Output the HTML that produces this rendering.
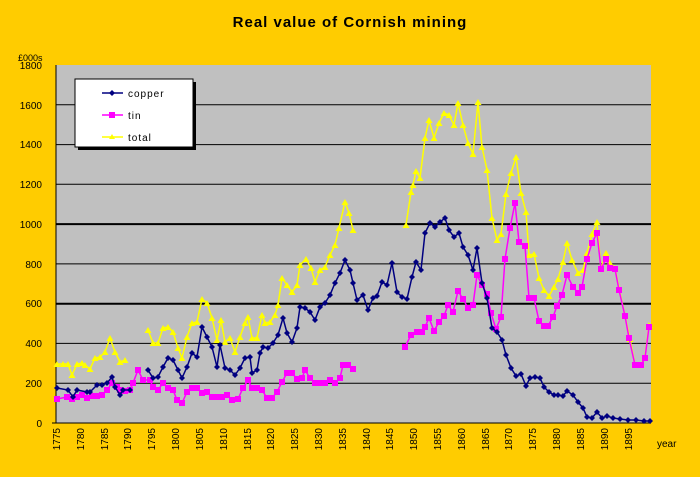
<!DOCTYPE html>
<html><head><style>
body{margin:0;background:#ffcc00;}
svg{display:block;font-family:"Liberation Sans",sans-serif;}
</style></head><body>
<svg width="700" height="477" viewBox="0 0 700 477">
<defs>
<marker id="mc" markerWidth="6" markerHeight="6" refX="3" refY="3" markerUnits="userSpaceOnUse"><path d="M3 0 L6 3 L3 6 L0 3Z" fill="#000080"/></marker>
<marker id="mt" markerWidth="6" markerHeight="6" refX="3" refY="3" markerUnits="userSpaceOnUse"><rect x="0" y="0" width="6" height="6" fill="#ff00ff"/></marker>
<marker id="my" markerWidth="7" markerHeight="6" refX="3.5" refY="3" markerUnits="userSpaceOnUse"><path d="M3.5 0 L7 6 L0 6Z" fill="#ffff00"/></marker>
</defs>
<rect width="700" height="477" fill="#ffcc00"/>
<text x="350" y="27" text-anchor="middle" font-size="15" font-weight="bold" letter-spacing="1">Real value of Cornish mining</text>
<text x="18" y="61" font-size="9">£000s</text>
<rect x="56" y="65" width="595" height="358" fill="#c0c0c0"/>
<g stroke="#000" stroke-width="1">
<line x1="56" y1="383.2" x2="651" y2="383.2"/>
<line x1="56" y1="343.4" x2="651" y2="343.4"/>
<line x1="56" y1="303.7" x2="651" y2="303.7" stroke-width="2"/>
<line x1="56" y1="263.9" x2="651" y2="263.9"/>
<line x1="56" y1="224.1" x2="651" y2="224.1" stroke-width="2"/>
<line x1="56" y1="184.3" x2="651" y2="184.3"/>
<line x1="56" y1="144.6" x2="651" y2="144.6"/>
<line x1="56" y1="104.8" x2="651" y2="104.8"/>
<line x1="56" y1="65" x2="56" y2="423"/>
<line x1="52" y1="423" x2="651" y2="423"/>
</g>
<g font-size="10" text-anchor="end">
<text x="42" y="427">0</text><text x="42" y="387">200</text><text x="42" y="347">400</text><text x="42" y="307">600</text><text x="42" y="268">800</text><text x="42" y="228">1000</text><text x="42" y="188">1200</text><text x="42" y="148">1400</text><text x="42" y="109">1600</text><text x="42" y="69">1800</text>
</g>
<g font-size="10" text-anchor="end" id="xl"></g>
<text x="657" y="447" font-size="10">year</text>

<polyline fill="none" stroke="#ffff00" stroke-width="1.5" marker-start="url(#my)" marker-mid="url(#my)" marker-end="url(#my)" points="57,364 63,364 68,364 72,375 77,364 82,363 85,365 90,369 95,358 100,357 105,352 110,338 115,352 120,362 125,360"/>
<polyline fill="none" stroke="#ffff00" stroke-width="1.5" marker-start="url(#my)" marker-mid="url(#my)" marker-end="url(#my)" points="148,330 153,343 158,343 163,328 168,327 173,332 178,348 182,358 187,337 192,323 197,322 202,299 207,303 212,318 217,340 221,320 225,342 230,338 235,352 240,337 245,323 248,317 252,338 257,338 262,315 265,323 270,322 275,315 278,305 282,278 287,285 292,292 297,285 300,265 306,259 311,268 315,282 320,270 325,267 330,255 335,245 339,228 345,202 349,213 353,230"/>
<polyline fill="none" stroke="#ffff00" stroke-width="1.5" marker-start="url(#my)" marker-mid="url(#my)" marker-end="url(#my)" points="406,225 411,192 413,185 416,171 420,178 425,138 429,120 434,138 439,123 444,113 449,115 454,125 458,103 463,125 468,143 473,154 478,102 482,147 487,170 492,218 497,240 501,234 506,194 511,173 516,157 521,193 526,212 529,255 534,254 539,278 544,290 549,296 554,287 558,279 563,262 567,243 572,260 578,273 583,270 587,253 592,234 597,222 601,269 606,253 610,263 615,268 619,288 625,316 630,339 635,365 641,365 645,357 649,325"/>

<polyline fill="none" stroke="#ff00ff" stroke-width="1.5" marker-start="url(#mt)" marker-mid="url(#mt)" marker-end="url(#mt)" points="57,399 67,397 72,399 77,397 82,395 87,398 92,396 97,396 102,395 107,390 112,383 117,387 120,390 125,391 130,390 133,383 138,370 143,380 150,380 153,387 158,390 163,383 168,388 173,390 177,400 182,403 187,392 192,388 197,388 202,393 207,392 212,397 217,397 222,397 227,395 232,400 238,399 243,388 248,380 252,388 257,388 262,390 267,398 272,398 277,392 282,382 287,373 292,373 297,379 302,378 305,370 310,378 315,383 320,383 325,383 330,380 335,383 340,378 343,365 348,365 353,369"/>
<polyline fill="none" stroke="#ff00ff" stroke-width="1.5" marker-start="url(#mt)" marker-mid="url(#mt)" marker-end="url(#mt)" points="405,347 411,335 417,332 422,332 425,327 429,318 434,331 439,322 444,316 448,305 453,312 458,291 463,299 468,308 473,305 477,275 482,285 487,294 491,313 496,329 501,317 505,259 510,228 515,203 519,242 525,246 529,298 534,298 539,321 544,326 548,326 553,317 557,306 562,295 567,275 573,287 578,293 582,287 587,259 592,243 597,233 601,269 606,259 610,268 615,269 619,290 625,316 629,338 635,365 641,365 645,358 649,327"/>

<polyline fill="none" stroke="#000080" stroke-width="1.5" marker-start="url(#mc)" marker-mid="url(#mc)" marker-end="url(#mc)" points="57,388 68,390 73,397 77,390 87,392 90,392 97,385 102,385 107,383 112,377 115,387 120,395 123,390 130,390"/>
<polyline fill="none" stroke="#000080" stroke-width="1.5" marker-start="url(#mc)" marker-mid="url(#mc)" marker-end="url(#mc)" points="148,370 153,378 158,377 163,367 168,358 173,360 178,370 182,378 187,367 192,353 197,357 202,327 207,337 212,347 217,367 220,345 225,368 230,370 235,375 240,368 245,358 250,357 252,373 257,370 260,353 263,347 268,348 273,343 278,335 283,318 287,333 292,342 297,328 300,307 305,308 310,312 315,320 320,307 325,303 330,295 335,283 340,273 345,260 350,270 353,283 357,300 363,295 368,310 373,298 377,296 382,282 387,285 392,263 397,292 402,297 407,299 412,277 416,262 421,270 425,233 430,223 435,227 440,222 445,218 449,230 454,237 459,233 463,247 468,255 473,270 477,248 482,283 487,298 492,328 497,332 502,340 506,355 511,368 516,376 521,374 526,386 530,378 535,377 540,378 544,387 549,392 554,395 558,395 563,396 567,391 573,395 578,402 583,408 587,417 592,418 597,412 602,418 607,416 613,418 620,419 628,420 636,420 644,421 650,421"/>

<rect x="78" y="82" width="118" height="68" fill="#000"/>
<rect x="75" y="79" width="118" height="68" fill="#fff" stroke="#000" stroke-width="1"/>
<line x1="102" y1="93" x2="123" y2="93" stroke="#000080" stroke-width="1.5"/><path d="M112 90 L115 93 L112 96 L109 93Z" fill="#000080"/>
<text x="128" y="97" font-size="10" letter-spacing="1">copper</text>
<line x1="102" y1="115" x2="123" y2="115" stroke="#ff00ff" stroke-width="1.5"/><rect x="109" y="112" width="6" height="6" fill="#ff00ff"/>
<text x="128" y="119" font-size="10" letter-spacing="1">tin</text>
<line x1="102" y1="137" x2="123" y2="137" stroke="#ffff00" stroke-width="1.5"/><path d="M112 134 L115 139 L109 139Z" fill="#ffff00"/>
<text x="128" y="141" font-size="10" letter-spacing="1">total</text>

<g font-size="10">
<text transform="translate(60,428) rotate(-90)" text-anchor="end">1775</text>
<text transform="translate(84,428) rotate(-90)" text-anchor="end">1780</text>
<text transform="translate(108,428) rotate(-90)" text-anchor="end">1785</text>
<text transform="translate(131,428) rotate(-90)" text-anchor="end">1790</text>
<text transform="translate(155,428) rotate(-90)" text-anchor="end">1795</text>
<text transform="translate(179,428) rotate(-90)" text-anchor="end">1800</text>
<text transform="translate(203,428) rotate(-90)" text-anchor="end">1805</text>
<text transform="translate(227,428) rotate(-90)" text-anchor="end">1810</text>
<text transform="translate(251,428) rotate(-90)" text-anchor="end">1815</text>
<text transform="translate(274,428) rotate(-90)" text-anchor="end">1820</text>
<text transform="translate(298,428) rotate(-90)" text-anchor="end">1825</text>
<text transform="translate(322,428) rotate(-90)" text-anchor="end">1830</text>
<text transform="translate(346,428) rotate(-90)" text-anchor="end">1835</text>
<text transform="translate(370,428) rotate(-90)" text-anchor="end">1840</text>
<text transform="translate(393,428) rotate(-90)" text-anchor="end">1845</text>
<text transform="translate(417,428) rotate(-90)" text-anchor="end">1850</text>
<text transform="translate(441,428) rotate(-90)" text-anchor="end">1855</text>
<text transform="translate(465,428) rotate(-90)" text-anchor="end">1860</text>
<text transform="translate(489,428) rotate(-90)" text-anchor="end">1865</text>
<text transform="translate(512,428) rotate(-90)" text-anchor="end">1870</text>
<text transform="translate(536,428) rotate(-90)" text-anchor="end">1875</text>
<text transform="translate(560,428) rotate(-90)" text-anchor="end">1880</text>
<text transform="translate(584,428) rotate(-90)" text-anchor="end">1885</text>
<text transform="translate(608,428) rotate(-90)" text-anchor="end">1890</text>
<text transform="translate(632,428) rotate(-90)" text-anchor="end">1895</text>
</g>
</svg>
</body></html>
